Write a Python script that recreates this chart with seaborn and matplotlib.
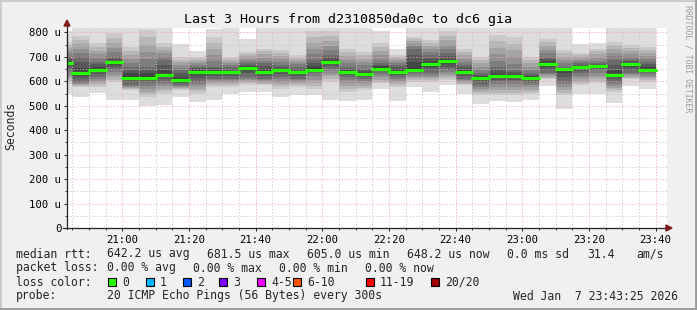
import numpy as np
import pandas as pd
import matplotlib
matplotlib.use("Agg")
import matplotlib.pyplot as plt
from matplotlib.lines import Line2D
from matplotlib.patches import Rectangle, Polygon
import seaborn as sns

W, H = 697, 310

# ---------------- data ----------------
title = "Last 3 Hours from d2310850da0c to dc6 gia"
first_step = "20:40"          # start of the first (partly visible) 5-minute step
step_min = 5
view_start = "20:43:25"
view_end = "23:43:25"

median_us = [674, 633, 645, 678, 615, 615, 625, 605, 640, 640, 637, 654,
             640, 645, 637, 648, 678, 637, 629, 652, 640, 648, 670, 681.5,
             637, 613, 621, 621, 613, 670, 650, 658, 662, 625, 670, 648.2]

# 20 sorted ping times (us) per 5-minute step
pings_us = [
    [550, 590, 601, 612, 623, 634, 645, 657, 665, 671, 677, 683, 692, 700, 712, 724, 736, 748, 760, 805],
    [536, 577, 581, 585, 590, 594, 598, 612, 622, 630, 636, 656, 680, 700, 717, 734, 751, 768, 785, 821],
    [553, 577, 585, 593, 602, 610, 618, 629, 637, 642, 648, 657, 670, 680, 695, 710, 725, 740, 755, 821],
    [522, 598, 607, 617, 626, 636, 645, 658, 667, 674, 680, 685, 693, 700, 719, 738, 758, 777, 796, 821],
    [522, 563, 567, 571, 576, 580, 584, 597, 607, 614, 620, 632, 646, 659, 675, 692, 708, 725, 741, 821],
    [498, 536, 547, 558, 569, 580, 591, 601, 609, 614, 620, 632, 647, 660, 690, 720, 750, 780, 810, 821],
    [502, 550, 560, 569, 579, 588, 598, 609, 617, 622, 628, 647, 668, 687, 701, 714, 728, 742, 755, 821],
    [536, 563, 567, 571, 576, 580, 584, 592, 599, 602, 608, 619, 633, 645, 656, 667, 678, 689, 700, 751],
    [516, 550, 560, 569, 579, 588, 598, 614, 627, 636, 642, 646, 653, 659, 667, 675, 684, 692, 700, 722],
    [525, 577, 584, 591, 597, 604, 611, 622, 631, 636, 642, 646, 653, 659, 684, 708, 733, 757, 782, 815],
    [550, 577, 584, 591, 597, 604, 611, 621, 629, 633, 639, 644, 652, 659, 667, 675, 684, 692, 700, 821],
    [557, 584, 591, 598, 604, 611, 618, 632, 643, 651, 657, 661, 667, 673, 683, 692, 702, 711, 721, 775],
    [557, 584, 589, 595, 600, 606, 611, 623, 631, 637, 643, 652, 663, 673, 685, 697, 710, 722, 734, 821],
    [536, 570, 580, 589, 599, 608, 618, 629, 637, 642, 648, 652, 660, 666, 678, 691, 703, 716, 728, 821],
    [543, 577, 584, 591, 597, 604, 611, 621, 629, 633, 639, 644, 652, 659, 669, 678, 688, 697, 707, 821],
    [543, 570, 582, 595, 607, 620, 632, 639, 645, 647, 653, 663, 676, 687, 711, 734, 758, 781, 805, 821],
    [525, 598, 609, 620, 630, 641, 652, 662, 670, 675, 681, 688, 698, 707, 727, 746, 766, 785, 805, 821],
    [518, 557, 569, 581, 594, 606, 618, 626, 631, 634, 640, 645, 652, 659, 674, 689, 704, 719, 734, 821],
    [522, 563, 573, 582, 592, 601, 611, 618, 623, 625, 631, 636, 645, 652, 666, 680, 693, 707, 721, 821],
    [570, 591, 599, 607, 616, 624, 632, 641, 647, 651, 657, 661, 667, 673, 689, 706, 722, 739, 755, 805],
    [520, 577, 585, 593, 602, 610, 618, 627, 634, 638, 644, 650, 659, 666, 674, 682, 691, 699, 707, 734],
    [577, 598, 605, 612, 618, 625, 632, 639, 645, 647, 653, 679, 709, 734, 744, 753, 763, 772, 782, 821],
    [557, 598, 605, 612, 618, 625, 632, 647, 659, 667, 673, 683, 696, 707, 719, 732, 744, 757, 769, 821],
    [584, 605, 613, 621, 629, 637, 645, 660, 671, 679, 685, 693, 704, 714, 732, 750, 769, 787, 805, 821],
    [550, 584, 589, 595, 600, 606, 611, 621, 629, 634, 640, 647, 657, 666, 680, 693, 707, 720, 734, 821],
    [509, 543, 551, 559, 568, 576, 584, 596, 604, 610, 616, 620, 626, 632, 646, 659, 673, 686, 700, 821],
    [520, 543, 554, 565, 576, 587, 598, 607, 614, 618, 624, 634, 648, 659, 685, 711, 737, 763, 789, 821],
    [516, 543, 554, 565, 576, 587, 598, 607, 614, 618, 624, 629, 638, 645, 672, 699, 727, 754, 782, 821],
    [525, 550, 558, 566, 575, 583, 591, 600, 606, 610, 616, 620, 626, 632, 646, 659, 673, 686, 700, 821],
    [580, 611, 615, 619, 624, 628, 632, 647, 659, 667, 673, 681, 691, 700, 715, 730, 745, 760, 775, 821],
    [488, 543, 554, 565, 576, 587, 598, 618, 633, 645, 651, 652, 656, 659, 673, 687, 700, 714, 728, 821],
    [547, 584, 594, 603, 613, 622, 632, 642, 650, 655, 661, 663, 668, 673, 681, 689, 698, 706, 714, 751],
    [550, 591, 602, 613, 623, 634, 645, 652, 657, 659, 665, 666, 670, 673, 685, 697, 710, 722, 734, 755],
    [513, 557, 565, 573, 582, 590, 598, 608, 616, 621, 627, 646, 668, 687, 702, 717, 732, 747, 762, 821],
    [580, 611, 615, 619, 624, 628, 632, 647, 659, 667, 673, 676, 682, 687, 699, 711, 724, 736, 748, 821],
    [570, 598, 605, 612, 618, 625, 632, 638, 643, 645, 651, 659, 670, 680, 692, 704, 717, 729, 741, 821],
]

xtick_labels = ["21:00", "21:20", "21:40", "22:00", "22:20", "22:40", "23:00", "23:20", "23:40"]
ytick_values = [0, 100, 200, 300, 400, 500, 600, 700, 800]
ytick_labels = ["0", "100 u", "200 u", "300 u", "400 u", "500 u", "600 u", "700 u", "800 u"]
y_max = 820

rtt_avg, rtt_max, rtt_min, rtt_now, rtt_sd, am_s = "642.2", "681.5", "605.0", "648.2", "0.0", "31.4"
loss_avg, loss_max, loss_min, loss_now = "0.00", "0.00", "0.00", "0.00"
loss_labels = ["0", "1", "2", "3", "4-5", "6-10", "11-19", "20/20"]
loss_colors = ["#26ff00", "#00b8ff", "#0059ff", "#7e00ff", "#ee00ff", "#ff5500", "#ff0000", "#a10000"]
probe_text = "20 ICMP Echo Pings (56 Bytes) every 300s"
stamp_text = "Wed Jan  7 23:43:25 2026"


def to_min(s):
    parts = [int(p) for p in s.split(":")]
    h, m = parts[0], parts[1]
    sec = parts[2] if len(parts) > 2 else 0
    return (h - 20) * 60 + m + sec / 60.0


# ---------------- style ----------------
sns.set_theme(style="white")
plt.rcParams["font.family"] = ["DejaVu Sans Mono"]
FS = 8.3

fig = plt.figure(figsize=(W / 100, H / 100), dpi=100, facecolor="#f0f0f0")


def P(x, y):
    return (x / W, 1 - y / H)


ax = fig.add_axes([67 / W, 1 - 228 / H, 600 / W, (228 - 27.5) / H])
ax.set_facecolor("white")

x_lo, x_hi = to_min(view_start), to_min(view_end)
ax.set_xlim(x_lo, x_hi)
ax.set_ylim(0, y_max)

# ---------------- smoke ----------------
pings = np.array(pings_us, dtype=float)
ncol, n = pings.shape
half = n // 2
starts = to_min(first_step) + step_min * np.arange(ncol)
for i in range(1, half + 1):
    g = int(190 / half * (half - i)) + 50
    lo = pings[:, i - 1]
    hi = pings[:, n - i]
    ax.bar(starts, hi - lo, bottom=lo, width=step_min, align="edge",
           color=f"#{g:02x}{g:02x}{g:02x}", linewidth=0, zorder=1)

# ---------------- grid (on top of smoke, as rrdtool) ----------------
MINOR_C, MAJOR_C = "#c4c4c4", "#f2a3a3"
for v in range(50, y_max + 1, 50):
    major = (v % 100 == 0)
    ax.axhline(v, color=MAJOR_C if major else MINOR_C, lw=0.6,
               ls=(0, (1.5, 2.2)), zorder=2)
tick_pos = [to_min(l) for l in xtick_labels]
t = to_min(first_step) + step_min
while t < x_hi:
    major = any(abs(t - p) < 1e-6 for p in tick_pos)
    ax.axvline(t, color=MAJOR_C if major else MINOR_C, lw=0.6,
               ls=(0, (1.5, 2.2)), zorder=2)
    t += step_min

# ---------------- median line ----------------
seg = pd.DataFrame({
    "t": np.concatenate([starts, starts + step_min]),
    "rtt": np.concatenate([median_us, median_us]),
    "col": np.concatenate([np.arange(ncol), np.arange(ncol)]),
})
sns.lineplot(data=seg, x="t", y="rtt", units="col", estimator=None,
             color="#26ff00", lw=2.3, ax=ax, zorder=4, legend=False)
ax.set_xlabel("")
ax.set_ylabel("")

# ---------------- axes / ticks ----------------
for s in ax.spines.values():
    s.set_visible(False)
ax.set_xticks(tick_pos, xtick_labels)
ax.set_xticks(np.arange(to_min(first_step) + step_min, x_hi, step_min), minor=True)
ax.set_yticks(ytick_values, ytick_labels)
ax.set_yticks(np.arange(50, y_max, 100), minor=True)
ax.tick_params(axis="both", which="major", direction="out", length=2.5, width=0.7,
               color="#222222", labelsize=7.7, labelcolor="black")
ax.tick_params(axis="both", which="minor", direction="out", length=1.5, width=0.6,
               color="#222222")
ax.tick_params(axis="y", which="major", pad=1.6)
ax.tick_params(axis="x", which="major", pad=2.4)
ax.tick_params(axis="both", which="both", bottom=True, left=True)

axis_col = "#202020"
arrow_col = "#7f1d1d"
fig.add_artist(Line2D([P(67, 229)[0], P(67, 24)[0]], [P(67, 229)[1], P(67, 24)[1]],
                      transform=fig.transFigure, color=axis_col, lw=0.9, zorder=5))
fig.add_artist(Line2D([P(63, 228)[0], P(668, 228)[0]], [P(63, 228)[1], P(668, 228)[1]],
                      transform=fig.transFigure, color=axis_col, lw=0.9, zorder=5))
fig.add_artist(Polygon([P(64, 26), P(70, 26), P(67, 20)], closed=True,
                       transform=fig.transFigure, color=arrow_col, zorder=6))
fig.add_artist(Polygon([P(666, 225), P(666, 231), P(672, 228)], closed=True,
                       transform=fig.transFigure, color=arrow_col, zorder=6))

# ---------------- texts ----------------
fig.text(*P(348, 19), title, ha="center", va="center", fontsize=9.6, color="black")
fig.text(*P(11, 126), "Seconds", rotation=90, ha="center", va="center", fontsize=FS)
fig.text(*P(688, 59), "RRDTOOL / TOBI OETIKER", rotation=270, ha="center", va="center",
         fontsize=5.9, color="#9c9c9c")

row1 = [(16, "median rtt:"), (107, f"{rtt_avg} us avg"), (207, f"{rtt_max} us max"),
        (307, f"{rtt_min} us min"), (407, f"{rtt_now} us now"), (507, f"{rtt_sd} ms sd"),
        (587, am_s), (636, "am/s")]
row2 = [(16, "packet loss:"), (107, f"{loss_avg} % avg"), (193, f"{loss_max} % max"),
        (279, f"{loss_min} % min"), (365, f"{loss_now} % now")]
for x, s in row1:
    fig.text(*P(x, 254), s, ha="left", va="center", fontsize=FS)
for x, s in row2:
    fig.text(*P(x, 268), s, ha="left", va="center", fontsize=FS)

fig.text(*P(16, 282), "loss color:", ha="left", va="center", fontsize=FS)
box_x = [108, 146, 183, 219, 257, 293, 366, 431]
for bx, lab, c in zip(box_x, loss_labels, loss_colors):
    x0, y0 = P(bx, 286)
    fig.add_artist(Rectangle((x0, y0), 8 / W, 8 / H, transform=fig.transFigure,
                             facecolor=c, edgecolor="black", lw=0.8))
    fig.text(*P(bx + 14, 282), lab, ha="left", va="center", fontsize=FS)

fig.text(*P(16, 296), "probe:", ha="left", va="center", fontsize=FS)
fig.text(*P(107, 296), probe_text, ha="left", va="center", fontsize=FS)
fig.text(*P(513, 296), stamp_text, ha="left", va="center", fontsize=FS)

# ---------------- frame ----------------
fig.add_artist(Line2D([0, 1], [1 - 0.5 / H, 1 - 0.5 / H], transform=fig.transFigure,
                      color="#cbcbcb", lw=1.4))
fig.add_artist(Line2D([0.5 / W, 0.5 / W], [0, 1], transform=fig.transFigure,
                      color="#cbcbcb", lw=1.4))
fig.add_artist(Line2D([0, 1], [1.0 / H, 1.0 / H], transform=fig.transFigure,
                      color="#999999", lw=2.0))
fig.add_artist(Line2D([1 - 1.0 / W, 1 - 1.0 / W], [0, 1], transform=fig.transFigure,
                      color="#999999", lw=2.0))

fig.savefig("out.png", dpi=100, facecolor=fig.get_facecolor())
